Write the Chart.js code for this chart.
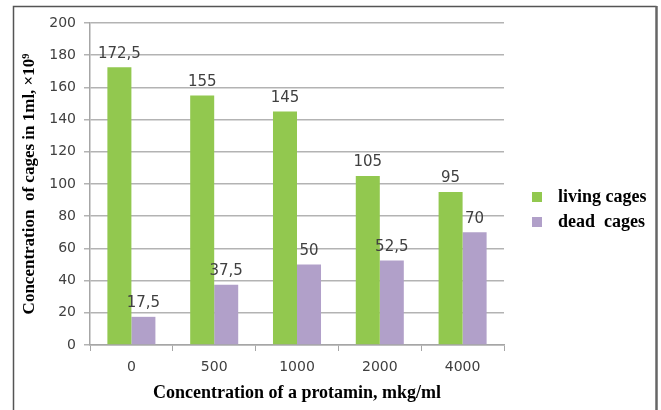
<!DOCTYPE html>
<html>
<head>
<meta charset="utf-8">
<script src="https://cdn.jsdelivr.net/npm/chart.js@4.4.1/dist/chart.umd.min.js"></script>
<style>
  html, body { margin: 0; padding: 0; background: #fff; }
  #wrap { position: relative; width: 661px; height: 410px; }
</style>
</head>
<body>
<div id="wrap"><canvas id="chart" width="661" height="410"></canvas></div>
<script>
// Data
const categories = ['0', '500', '1000', '2000', '4000'];
const livingCages = [172.5, 155, 145, 105, 95];
const deadCages = [17.5, 37.5, 50, 52.5, 70];
const seriesNames = ['living cages', 'dead  cages'];
const yMax = 200;
const yStep = 20;

const sansFont = '"DejaVu Sans", sans-serif';
const serifFont = '"Liberation Serif", "Times New Roman", serif';

// Value labels above bars, with decimal comma
const valueLabels = {
  id: 'valueLabels',
  afterDatasetsDraw(chart) {
    const ctx = chart.ctx;
    ctx.save();
    ctx.font = '15px ' + sansFont;
    ctx.fillStyle = '#404040';
    ctx.textAlign = 'center';
    ctx.textBaseline = 'bottom';
    chart.data.datasets.forEach((ds, i) => {
      chart.getDatasetMeta(i).data.forEach((bar, j) => {
        ctx.fillText(String(ds.data[j]).replace('.', ','), bar.x, bar.y - 6);
      });
    });
    ctx.restore();
  }
};

// Legend on the right and the frame around the picture
const sideLegend = {
  id: 'sideLegend',
  afterDraw(chart) {
    const ctx = chart.ctx;
    const area = chart.chartArea;
    const midY = (area.top + area.bottom) / 2;
    ctx.save();
    ctx.font = 'bold 18px ' + serifFont;
    ctx.textBaseline = 'middle';
    chart.data.datasets.forEach((ds, i) => {
      const y = midY + 13 + i * 25;
      ctx.fillStyle = ds.backgroundColor;
      ctx.fillRect(area.right + 28, y - 5, 10, 10);
      ctx.fillStyle = '#000';
      ctx.fillText(ds.label, area.right + 54, y);
    });
    // frame
    ctx.strokeStyle = '#555';
    ctx.lineWidth = 1.5;
    ctx.beginPath();
    ctx.moveTo(13.5, 420);
    ctx.lineTo(13.5, 6.5);
    ctx.lineTo(656.5, 6.5);
    ctx.stroke();
    ctx.strokeStyle = '#666';
    ctx.lineWidth = 2.5;
    ctx.beginPath();
    ctx.moveTo(656.5, 6);
    ctx.lineTo(656.5, 420);
    ctx.stroke();
    ctx.restore();
  }
};

const ctx = document.getElementById('chart').getContext('2d');
new Chart(ctx, {
  type: 'bar',
  data: {
    labels: categories,
    datasets: [
      { label: seriesNames[0], data: livingCages, backgroundColor: '#92c84f' },
      { label: seriesNames[1], data: deadCages, backgroundColor: '#b1a0c9' }
    ]
  },
  options: {
    responsive: false,
    animation: false,
    devicePixelRatio: 1,
    layout: { padding: { left: 15, right: 157, top: 23, bottom: 0 } },
    datasets: { bar: { categoryPercentage: 0.58, barPercentage: 1.0 } },
    plugins: { legend: { display: false }, tooltip: { enabled: false } },
    scales: {
      x: {
        grid: { drawOnChartArea: false, drawTicks: true, tickLength: 6, color: '#a6a6a6', lineWidth: 1 },
        border: { color: '#a6a6a6', width: 1.5 },
        ticks: { color: '#404040', font: { family: sansFont, size: 14 }, padding: 8 },
        title: {
          display: true,
          text: 'Concentration of a protamin, mkg/ml',
          color: '#000',
          font: { family: serifFont, size: 18, weight: 'bold' },
          padding: { top: 0, bottom: 6 }
        },
        afterFit(scale) { scale.height = 65; }
      },
      y: {
        min: 0,
        max: yMax,
        grid: { color: '#b3b3b3', lineWidth: 1.5, tickLength: 6 },
        border: { color: '#a6a6a6', width: 1.5 },
        ticks: { stepSize: yStep, color: '#404040', font: { family: sansFont, size: 14 }, padding: 8 },
        title: {
          display: true,
          text: 'Concentration  of cages in 1ml, ×10⁹',
          color: '#000',
          font: { family: serifFont, size: 17, weight: 'bold' },
          padding: { top: 4, bottom: 4 }
        },
        afterFit(scale) { scale.width = 75; }
      }
    }
  },
  plugins: [valueLabels, sideLegend]
});
</script>
</body>
</html>
